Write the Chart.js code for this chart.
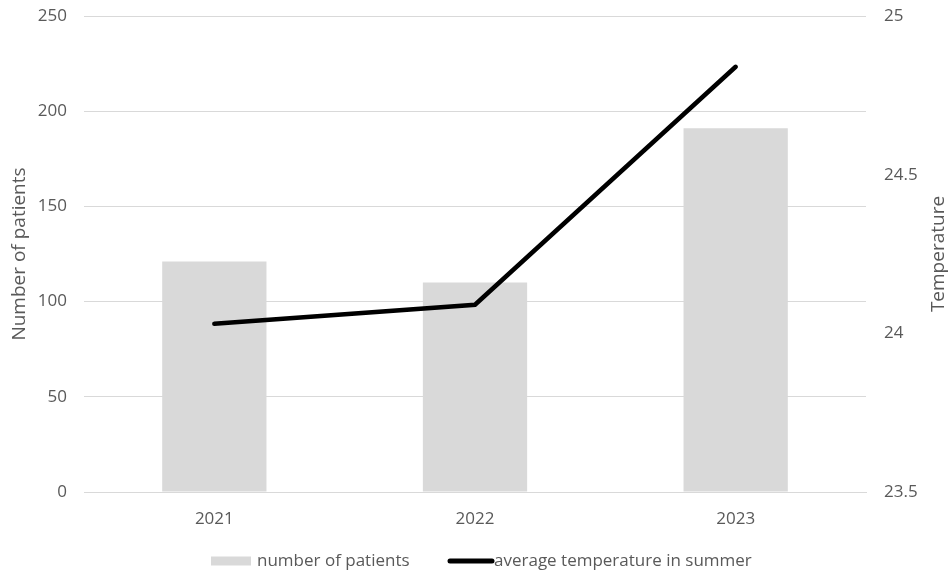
<!DOCTYPE html>
<html>
<head>
<meta charset="utf-8">
<script src="https://cdn.jsdelivr.net/npm/chart.js@4/dist/chart.umd.min.js"></script>
<style>
  html, body { margin: 0; padding: 0; background: #ffffff; }
  #wrap { position: relative; width: 951px; height: 571px; }
</style>
</head>
<body>
<div id="wrap"><canvas id="c" width="951" height="571"></canvas></div>
<script>
// Yearly heat-related patient counts against average summer temperature
const years = ['2021', '2022', '2023'];
const patients = [121, 110, 191];
const summerTemp = [24.03, 24.09, 24.84];
const patientTicks = [0, 50, 100, 150, 200, 250];
const tempTicks = [23.5, 24, 24.5, 25];
const rightTitle = 'Temperature';

const FONT = '"Open Sans", sans-serif';
const TEXT = '#595959';

// Legend along the bottom edge, plus the right axis title read bottom-to-top
const extras = {
  id: 'extras',
  afterDraw(chart) {
    const ctx = chart.ctx;
    const area = chart.chartArea;
    const y = 561;
    ctx.save();
    ctx.font = '17px ' + FONT;
    ctx.textBaseline = 'middle';
    // bar swatch
    ctx.fillStyle = '#d9d9d9';
    ctx.fillRect(211, y - 4.5, 40, 9);
    ctx.fillStyle = TEXT;
    ctx.fillText(chart.data.datasets[1].label, 257, y);
    // line swatch
    ctx.strokeStyle = '#000000';
    ctx.lineWidth = 5;
    ctx.lineCap = 'round';
    ctx.beginPath();
    ctx.moveTo(450, y);
    ctx.lineTo(492, y);
    ctx.stroke();
    ctx.fillText(chart.data.datasets[0].label, 494, y);
    // right axis title
    ctx.font = '19px ' + FONT;
    ctx.textAlign = 'center';
    ctx.translate(939, (area.top + area.bottom) / 2);
    ctx.rotate(-Math.PI / 2);
    ctx.fillText(rightTitle, 0, 0);
    ctx.restore();
  }
};

function noPad(s) {
  s.paddingTop = 0;
  s.paddingBottom = 0;
}

new Chart(document.getElementById('c'), {
  data: {
    labels: years,
    datasets: [
      {
        type: 'line',
        label: 'average temperature in summer',
        data: summerTemp,
        yAxisID: 'yTemp',
        borderColor: '#000000',
        borderWidth: 4.5,
        borderCapStyle: 'round',
        borderJoinStyle: 'miter',
        pointRadius: 0,
        tension: 0,
        order: 0
      },
      {
        type: 'bar',
        label: 'number of patients',
        data: patients,
        yAxisID: 'y',
        backgroundColor: '#d9d9d9',
        barPercentage: 0.4,
        categoryPercentage: 1.0,
        order: 1
      }
    ]
  },
  options: {
    responsive: false,
    animation: false,
    layout: { padding: { top: 16, bottom: 40, left: 0, right: 0 } },
    plugins: {
      legend: { display: false },
      tooltip: { enabled: false }
    },
    scales: {
      x: {
        grid: { display: false },
        border: { display: true, color: '#d9d9d9', width: 1 },
        ticks: { color: TEXT, font: { family: FONT, size: 17 }, padding: 9 },
        afterFit(s) { s.height = 39; s.paddingLeft = 0; s.paddingRight = 0; }
      },
      y: {
        position: 'left',
        min: 0,
        max: 250,
        afterBuildTicks(s) { s.ticks = patientTicks.map(v => ({ value: v })); },
        grid: { color: '#d9d9d9', drawTicks: false, lineWidth: 1 },
        border: { display: false },
        ticks: { color: TEXT, font: { family: FONT, size: 17 }, padding: 17 },
        title: { display: true, text: 'Number of patients', color: TEXT, font: { family: FONT, size: 19 }, padding: { top: 8, bottom: 2 } },
        afterFit(s) { s.width = 84; noPad(s); }
      },
      yTemp: {
        position: 'right',
        min: 23.5,
        max: 25,
        afterBuildTicks(s) { s.ticks = tempTicks.map(v => ({ value: v })); },
        grid: { display: false, drawTicks: false },
        border: { display: false },
        ticks: {
          color: TEXT,
          font: { family: FONT, size: 17 },
          padding: 18,
          callback: v => String(v)
        },
        afterFit(s) { s.width = 85; noPad(s); }
      }
    }
  },
  plugins: [extras]
});
</script>
</body>
</html>
